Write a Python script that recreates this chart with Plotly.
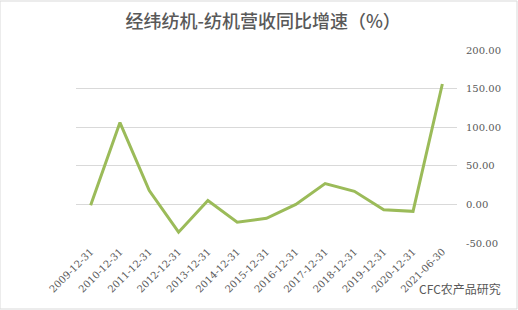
import plotly.graph_objects as go

categories = ["2009-12-31", "2010-12-31", "2011-12-31", "2012-12-31", "2013-12-31",
              "2014-12-31", "2015-12-31", "2016-12-31", "2017-12-31", "2018-12-31",
              "2019-12-31", "2020-12-31", "2021-06-30"]
values = [-1, 106, 18, -36, 5, -23, -18, 0, 27, 17, -7, -9, 156]
tick_vals = [-50, 0, 50, 100, 150, 200]
tick_text = ["-50.00", "0.00", "50.00", "100.00", "150.00", "200.00"]

fig = go.Figure()
fig.add_trace(go.Scatter(x=categories, y=values, mode="lines",
                         line=dict(color="#9BBB59", width=3)))

fig.update_layout(
    width=518, height=310,
    margin=dict(l=76, r=61, t=50, b=67),
    paper_bgcolor="white", plot_bgcolor="white",
    showlegend=False,
    title=dict(text="经纬纺机-纺机营收同比增速（%）", x=0.508, xanchor="center",
               y=0.93, yanchor="middle",
               font=dict(family="Noto Sans CJK SC", size=18, color="#595959", weight=500)),
    xaxis=dict(type="category", range=[-0.5, 12.5], showgrid=False, zeroline=False,
               showline=False, tickangle=-45, ticks="",
               tickfont=dict(family="DejaVu Serif", size=10, color="#595959")),
    yaxis=dict(side="right", range=[-50, 200], tickvals=tick_vals, ticktext=tick_text,
               showgrid=True, gridcolor="#D9D9D9", gridwidth=1, zeroline=False,
               showline=False, ticks="", ticklabelstandoff=8,
               tickfont=dict(family="DejaVu Serif", size=10, color="#595959")),
)
fig.add_shape(type="rect", xref="paper", yref="paper", x0=-76/381, x1=1 + 60/381,
              y0=-66/193, y1=1 + 49/193, line=dict(color="#D9D9D9", width=1))
fig.add_annotation(text="CFC农产品研究", xref="paper", yref="paper",
                   x=1 + 46/381, y=-45/193, xanchor="right", yanchor="middle",
                   showarrow=False,
                   font=dict(family="Noto Sans CJK SC", size=12, color="#595959"))
fig.write_html("out.html")
